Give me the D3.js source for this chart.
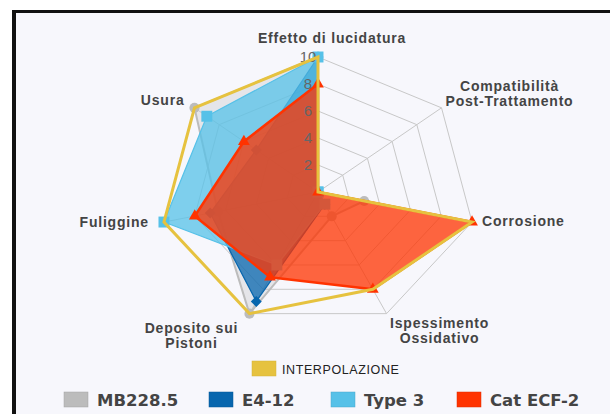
<!DOCTYPE html>
<html lang="it">
<head>
<meta charset="UTF-8">
<title>Radar</title>
<style>
  html, body { margin: 0; padding: 0; background: #fff; }
  svg { display: block; }
</style>
</head>
<body>
<svg id="chart" width="610" height="414"></svg>
<script src="https://cdn.jsdelivr.net/npm/d3@7/dist/d3.min.js"></script>
<script>
// axes, clockwise from the top
const axes = [
  "Effetto di lucidatura",
  "Compatibilità|Post-Trattamento",
  "Corrosione",
  "Ispessimento|Ossidativo",
  "Deposito sui|Pistoni",
  "Fuliggine",
  "Usura"
];
const ticks = [2, 4, 6, 8, 10];

const mb2285         = [10, 0, 3, 2, 10, 6.5, 10];
const e412           = [10, 0, 0, 1, 9, 7, 5];
const type3          = [10, 0, 0, 1, 6, 10, 9];
const catEcf2        = [8, 0, 10, 8, 7, 8, 6];
const interpolazione = [10, 0, 10, 8, 10, 10, 10];

const seriesNames = ["MB228.5", "E4-12", "Type 3", "Cat ECF-2"];

const svg = d3.select("#chart");
const cx = 318, cy = 192, rx = 158, ry = 135;

// frame + background
svg.append("rect").attr("x", 14).attr("y", 11).attr("width", 600).attr("height", 410)
  .attr("fill", "#f7f7fc");
svg.append("line").attr("x1", 12).attr("x2", 610).attr("y1", 11.5).attr("y2", 11.5)
  .attr("stroke", "#111").attr("stroke-width", 3);
svg.append("line").attr("x1", 14).attr("x2", 14).attr("y1", 10).attr("y2", 414)
  .attr("stroke", "#111").attr("stroke-width", 4);

const xr = d3.scaleLinear().domain([0, 10]).range([0, rx]);
const yr = d3.scaleLinear().domain([0, 10]).range([0, ry]);
const angle = d3.scaleLinear().domain([0, axes.length]).range([0, 2 * Math.PI]);

const px = (v, i) => cx + xr(v) * Math.sin(angle(i));
const py = (v, i) => cy - yr(v) * Math.cos(angle(i));

const radar = d3.line()
  .x((v, i) => px(v, i))
  .y((v, i) => py(v, i))
  .curve(d3.curveLinearClosed);

// grid
const grid = svg.append("g").attr("fill", "none").attr("stroke", "#c8c8c8").attr("stroke-width", 1);
ticks.forEach(t => grid.append("path").attr("d", radar(axes.map(() => t))));
axes.forEach((a, i) => grid.append("line")
  .attr("x1", cx).attr("y1", cy)
  .attr("x2", px(10, i)).attr("y2", py(10, i)));

// series: polygon then its markers, one after the other
const series = [
  { name: seriesNames[0], values: mb2285,  color: "#bcbcbc", op: 0.3,  sw: 2,   sym: d3.symbolCircle,   size: 80,  rot: 0 },
  { name: seriesNames[1], values: e412,    color: "#0766ae", op: 0.75, sw: 1.2, sym: d3.symbolSquare,   size: 60,  rot: 45 },
  { name: seriesNames[2], values: type3,   color: "#56c1e8", op: 0.75, sw: 1.2, sym: d3.symbolSquare,   size: 120, rot: 0 },
  { name: seriesNames[3], values: catEcf2, color: "#ff3300", op: 0.75, sw: 2.5, sym: d3.symbolTriangle, size: 60,  rot: 0 }
];

series.forEach(s => {
  const g = svg.append("g");
  g.append("path")
    .attr("d", radar(s.values))
    .attr("fill", s.color)
    .attr("fill-opacity", s.op)
    .attr("stroke", s.color)
    .attr("stroke-width", s.sw)
    .attr("stroke-linejoin", "round");
  g.selectAll(".pt").data(s.values).join("path")
    .attr("class", "pt")
    .attr("d", d3.symbol(s.sym, s.size))
    .attr("transform", (v, i) => `translate(${px(v, i)},${py(v, i)}) rotate(${s.rot})`)
    .attr("fill", s.color);
});

// tick labels
svg.append("g").selectAll("text").data(ticks).join("text")
  .attr("x", cx - 10)
  .attr("y", d => cy - yr(d))
  .attr("dy", "0.36em")
  .attr("text-anchor", "middle")
  .attr("font-family", "'Liberation Sans', Arial, sans-serif")
  .attr("font-size", 15)
  .attr("fill", "#666")
  .text(d => d);

svg.append("path")
  .attr("d", radar(interpolazione))
  .attr("fill", "none")
  .attr("stroke", "#e6c23f")
  .attr("stroke-width", 3)
  .attr("stroke-linejoin", "miter");

// axis labels (position relative to axis end)
const labelPos = [
  { dx: 14,   dy: -14, anchor: "middle" },
  { dx: 68,   dy: -17, anchor: "middle" },
  { dx: 10,   dy: 4,   anchor: "start" },
  { dx: 53,   dy: 14,  anchor: "middle" },
  { dx: -58,  dy: 19,  anchor: "middle" },
  { dx: -15,  dy: 5,   anchor: "end" },
  { dx: -10,  dy: -3,  anchor: "end" }
];
axes.forEach((a, i) => {
  const lp = labelPos[i];
  const t = svg.append("text")
    .attr("x", px(10, i) + lp.dx)
    .attr("y", py(10, i) + lp.dy)
    .attr("text-anchor", lp.anchor)
    .attr("font-family", "'Liberation Sans', Arial, sans-serif")
    .attr("font-weight", "bold")
    .attr("font-size", 14)
    .attr("letter-spacing", 0.8)
    .attr("fill", "#444");
  a.split("|").forEach((line, j) => t.append("tspan")
    .attr("x", px(10, i) + lp.dx)
    .attr("dy", j === 0 ? 0 : 15)
    .text(line));
});

// legend
const leg = svg.append("g");
leg.append("rect").attr("x", 252).attr("y", 361).attr("width", 24).attr("height", 15)
  .attr("fill", "#e6c23f").attr("stroke", "#d4b23a").attr("stroke-width", 0.5);
leg.append("text").attr("x", 282).attr("y", 374)
  .attr("font-family", "'Liberation Sans', Arial, sans-serif")
  .attr("font-size", 12.5).attr("letter-spacing", 0.6).attr("fill", "#222")
  .text("INTERPOLAZIONE");

const legX = [64, 209, 331, 457];
series.forEach((s, k) => {
  leg.append("rect").attr("x", legX[k]).attr("y", 392).attr("width", 24).attr("height", 15)
    .attr("fill", s.color).attr("stroke", d3.color(s.color).darker(0.4)).attr("stroke-width", 0.5);
  leg.append("text").attr("x", legX[k] + 33).attr("y", 406)
    .attr("font-family", "'DejaVu Sans', sans-serif")
    .attr("font-weight", "bold").attr("font-size", 16.5).attr("fill", "#444")
    .text(s.name);
});
</script>
</body>
</html>
